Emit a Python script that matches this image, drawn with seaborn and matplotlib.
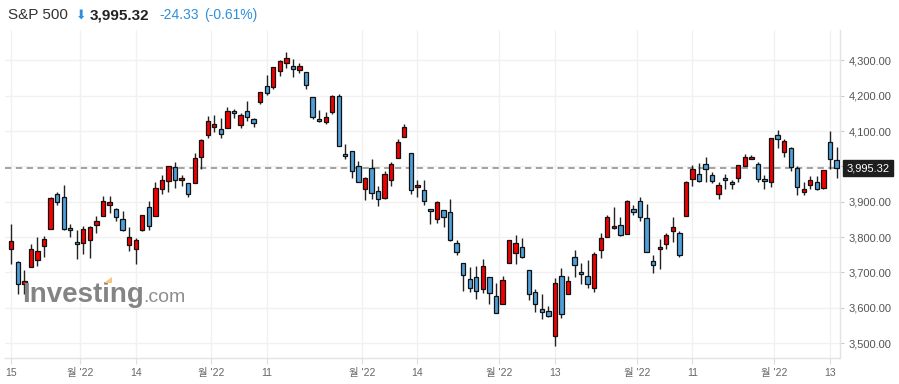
import matplotlib
matplotlib.use("Agg")
import matplotlib.pyplot as plt
import matplotlib.transforms as mtransforms
from matplotlib.patches import Polygon
import seaborn as sns
import numpy as np
import pandas as pd

# ---- data (daily candles) ----
opens = [3765, 3729, 3666, 3715, 3734, 3775, 3822, 3921, 3913, 3825,
         3786, 3782, 3793, 3833, 3859, 3890, 3881, 3851, 3779, 3765,
         3819, 3885, 3861, 3937, 3958, 3998, 3963, 3953, 3952, 4027,
         4089, 4112, 4105, 4110, 4155, 4118, 4156, 4133, 4182, 4229,
         4226, 4270, 4293, 4283, 4274, 4267, 4196, 4133, 4127, 4155,
         4200, 4035, 4043, 4001, 3937, 3995, 3930, 3910, 3961, 4024,
         4084, 4037, 3941, 3933, 3881, 3850, 3876, 3871, 3782, 3726,
         3682, 3686, 3652, 3687, 3633, 3610, 3726, 3754, 3771, 3706,
         3645, 3596, 3591, 3519, 3690, 3639, 3745, 3702, 3689, 3657,
         3764, 3799, 3825, 3834, 3808, 3881, 3902, 3853, 3733, 3766,
         3781, 3818, 3811, 3860, 3965, 3978, 4006, 3977, 3921, 3966,
         3956, 3966, 4002, 4022, 4006, 3964, 3957, 4088, 4041, 4052,
         3997, 3929, 3948, 3955, 3940, 4070, 4017]
highs = [3837, 3731, 3707, 3780, 3801, 3803, 3913, 3928, 3947, 3837,
         3820, 3831, 3831, 3859, 3915, 3916, 3882, 3874, 3828, 3797,
         3864, 3902, 3956, 3975, 4000, 4012, 3976, 3954, 4039, 4079,
         4142, 4145, 4138, 4169, 4162, 4150, 4186, 4137, 4212, 4259,
         4281, 4302, 4325, 4303, 4293, 4268, 4196, 4161, 4155, 4201,
         4204, 4063, 4045, 4015, 3971, 4021, 3944, 3987, 4012, 4077,
         4120, 4037, 3962, 3961, 3881, 3901, 3877, 3907, 3791, 3727,
         3716, 3718, 3737, 3687, 3670, 3690, 3792, 3805, 3797, 3706,
         3652, 3639, 3606, 3684, 3712, 3690, 3763, 3728, 3736, 3757,
         3811, 3862, 3886, 3858, 3905, 3892, 3913, 3895, 3750, 3796,
         3812, 3858, 3816, 3958, 4003, 4009, 4026, 3985, 3957, 3980,
         3962, 4005, 4034, 4032, 4014, 3976, 4080, 4102, 4078, 4055,
         4000, 3955, 3974, 3974, 3991, 4101, 4054]
lows = [3724, 3640, 3638, 3714, 3717, 3743, 3822, 3891, 3820, 3799,
        3739, 3752, 3742, 3813, 3859, 3869, 3846, 3817, 3762, 3723,
        3817, 3819, 3861, 3923, 3928, 3938, 3944, 3913, 3952, 3994,
        4081, 4097, 4081, 4109, 4136, 4108, 4130, 4113, 4178, 4202,
        4220, 4257, 4279, 4254, 4264, 4220, 4133, 4126, 4121, 4149,
        4058, 4020, 3966, 3955, 3904, 3907, 3887, 3907, 3946, 4024,
        4084, 3922, 3914, 3890, 3838, 3839, 3828, 3790, 3750, 3648,
        3645, 3624, 3641, 3610, 3584, 3610, 3726, 3723, 3740, 3621,
        3589, 3568, 3573, 3491, 3571, 3639, 3687, 3667, 3657, 3646,
        3742, 3799, 3824, 3804, 3808, 3864, 3845, 3759, 3698, 3709,
        3765, 3787, 3745, 3860, 3946, 3957, 3955, 3953, 3908, 3937,
        3935, 3957, 4000, 4020, 3957, 3937, 3941, 4052, 4028, 3986,
        3920, 3920, 3937, 3932, 3937, 3994, 3966]
closes = [3790, 3667, 3675, 3765, 3760, 3795, 3912, 3900, 3822, 3819,
          3780, 3824, 3830, 3845, 3901, 3898, 3856, 3820, 3801, 3791,
          3862, 3831, 3938, 3961, 4000, 3963, 3967, 3921, 4023, 4074,
          4130, 4119, 4093, 4156, 4152, 4146, 4140, 4124, 4212, 4209,
          4281, 4299, 4306, 4276, 4285, 4231, 4140, 4129, 4141, 4200,
          4059, 4030, 3988, 3957, 3967, 3925, 3909, 3980, 4006, 4068,
          4111, 3934, 3947, 3901, 3874, 3899, 3856, 3791, 3759, 3694,
          3655, 3647, 3719, 3641, 3585, 3678, 3791, 3783, 3745, 3640,
          3612, 3589, 3576, 3669, 3582, 3677, 3721, 3695, 3666, 3752,
          3797, 3858, 3831, 3807, 3902, 3872, 3856, 3759, 3720, 3771,
          3806, 3828, 3748, 3957, 3994, 3958, 3993, 3959, 3947, 3961,
          3950, 4003, 4028, 4026, 3965, 3958, 4080, 4078, 4071, 3999,
          3943, 3935, 3963, 3935, 3991, 4020, 3995.32]

xtick_idx = [0, 10.5, 19, 30.5, 39, 53.5, 62, 74.5, 83, 95.5, 104, 116.5, 125]
xtick_labels = ["15", "월 '22", "14", "월 '22", "11", "월 '22", "14",
                "월 '22", "13", "월 '22", "11", "월 '22", "13"]
ytick_vals = [3500, 3600, 3700, 3800, 3900, 4000, 4100, 4200, 4300]

instrument = "S&P 500"
last_price = 3995.32
change = -24.33
change_pct = -0.61

# ---- styling ----
sns.set_theme(style="white")
plt.rcParams['font.family'] = ['Liberation Sans', 'Noto Sans CJK KR', 'DejaVu Sans']

UP = "#f20000"
DOWN = "#4f9fd8"
BLUE_TXT = "#2d8fdd"

df = pd.DataFrame({"i": np.arange(len(opens)), "open": opens, "high": highs,
                   "low": lows, "close": closes})
df["up"] = df["close"] >= df["open"]
df["bottom"] = df[["open", "close"]].min(axis=1)
df["height"] = (df["close"] - df["open"]).abs().clip(lower=5)

W, H = 899, 384
fig = plt.figure(figsize=(W / 100, H / 100), dpi=100)
ax_l, ax_r, ax_t, ax_b = 5, 840, 30, 358
ax = fig.add_axes([ax_l / W, 1 - ax_b / H, (ax_r - ax_l) / W, (ax_b - ax_t) / H])

# watermark
fig.text(22 / W, 1 - 302 / H, "Investing", fontsize=20, fontweight="bold",
         color="#848484", va="baseline", ha="left", zorder=0)
fig.text(143 / W, 1 - 302 / H, ".com", fontsize=14, color="#8e8e8e",
         va="baseline", ha="left", zorder=0)
fig.patches.append(Polygon([[104 / W, 1 - 283 / H], [112 / W, 1 - 277 / H],
                            [112 / W, 1 - 283 / H]], closed=True,
                           transform=fig.transFigure, fc="#f6c77a", ec="none",
                           zorder=0.5))

# wicks
ax.vlines(df["i"], df["low"], df["high"], color="#222222", lw=1.0, zorder=2)
# bodies
ax.bar(df["i"], df["height"], bottom=df["bottom"], width=0.66,
       color=np.where(df["up"], UP, DOWN), edgecolor="#111111",
       linewidth=0.9, zorder=3)

# last price dashed line
ax.axhline(last_price, color="#9b9b9b", lw=1.3, ls=(0, (3.5, 2.5)), zorder=1.5)

ax.set_xlim(-0.96, 126.53)
ax.set_ylim(3457.8, 4386.3)

ax.set_yticks(ytick_vals)
ax.set_yticklabels([f"{v:,.2f}" for v in ytick_vals])
ax.yaxis.tick_right()
ax.set_xticks(xtick_idx)
ax.set_xticklabels(xtick_labels)
ax.tick_params(axis="y", which="both", right=True, left=False, length=3,
               width=0.8, color="#cccccc", pad=3, labelsize=8, labelcolor="#555555")
ax.tick_params(axis="x", bottom=True, length=4, width=0.8, color="#dddddd",
               pad=3, labelsize=7.5, labelcolor="#666666")
ax.grid(True, color="#f1f1f1", lw=1.0, zorder=0)
ax.set_axisbelow(True)
for s in ["top", "left"]:
    ax.spines[s].set_visible(False)
for s in ["right", "bottom"]:
    ax.spines[s].set_color("#e3e3e3")
    ax.spines[s].set_linewidth(1.0)
ax.set_facecolor("none")

# last price tag
trans = mtransforms.blended_transform_factory(ax.transAxes, ax.transData)
ax.text(1.008, last_price, f"{last_price:,.2f}", transform=trans, ha="left",
        va="center", fontsize=8, color="white", zorder=5, clip_on=False,
        bbox=dict(boxstyle="square,pad=0.3", fc="#1e1e1e", ec="#1e1e1e"))

# header
y_head = 1 - 15 / H
fig.text(8 / W, y_head, instrument, fontsize=11, color="#333333", va="center", ha="left")
fig.text(76 / W, y_head, "\u2b07", fontsize=9, color=BLUE_TXT, va="center", ha="left",
         family=["DejaVu Sans"])
fig.text(90 / W, y_head, f"{last_price:,.2f}", fontsize=11, fontweight="bold",
         color="#222222", va="center", ha="left")
fig.text(159 / W, y_head, f"{change:.2f}", fontsize=10, color=BLUE_TXT,
         va="center", ha="left")
fig.text(204 / W, y_head, f"({change_pct:.2f}%)", fontsize=10, color=BLUE_TXT,
         va="center", ha="left")

fig.savefig("out.png", dpi=100)
